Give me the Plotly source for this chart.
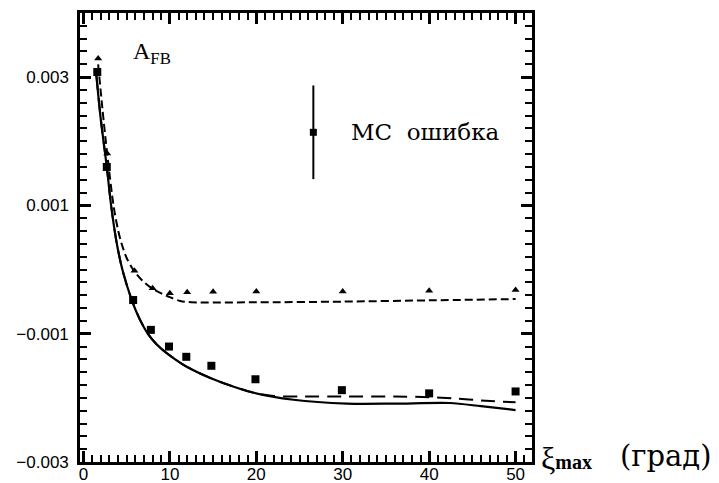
import plotly.graph_objects as go

# --- data ---
sq_x = [1.6, 2.7, 5.75, 7.8, 9.9, 11.9, 14.8, 19.9, 29.9, 40, 50]
sq_y = [0.00308, 0.00160, -0.000475, -0.00094, -0.00120, -0.00136, -0.00150, -0.00171, -0.00188, -0.00193, -0.00190]

tri_x = [1.7, 2.75, 5.9, 8, 10, 12, 15, 20, 30, 40, 50]
tri_y = [0.00329, 0.00181, -0.00002, -0.00029, -0.00037, -0.000355, -0.000345, -0.00034, -0.00034, -0.00033, -0.00032]

solid_x = [1.5, 2.0, 2.7, 3.2, 3.8, 4.5, 5.6, 6.5, 7.5, 8.5, 9.6, 11.5, 13.5, 16, 19.7, 24.3, 30.5, 36, 42.4, 46, 50]
solid_y = [0.00302, 0.00235, 0.0016, 0.0010, 0.00045, 0.0000, -0.00048, -0.00077, -0.00101, -0.00117, -0.00130,
           -0.00148, -0.00162, -0.00176, -0.00192, -0.00203, -0.00209, -0.00209, -0.00208, -0.00213, -0.00219]

dlow_x = [1.5, 2.0, 2.7, 3.2, 3.8, 4.5, 5.6, 6.5, 7.5, 8.5, 9.6, 11.5, 13.5, 16, 19.7, 22, 25, 30.5, 36, 40, 43, 46, 50]
dlow_y = [0.00302, 0.00235, 0.0016, 0.0010, 0.00045, 0.0000, -0.00048, -0.00077, -0.00101, -0.00117, -0.00130,
          -0.00148, -0.00162, -0.00176, -0.00192, -0.00197, -0.00198, -0.00198, -0.00198, -0.00199, -0.00201, -0.00204, -0.00207]

dup_x = [1.7, 2.2, 2.75, 3.5, 4.0, 4.4, 5.0, 5.8, 6.8, 7.9, 9.0, 10.0, 11.2, 12.5, 20, 30, 40, 50]
dup_y = [0.0032, 0.0025, 0.0018, 0.00098, 0.00062, 0.00041, 0.00018, -0.00001, -0.00017, -0.00029, -0.00037,
         -0.00043, -0.00049, -0.00051, -0.00051, -0.00050, -0.00048, -0.00046]

err_x = [26.6]
err_y = [0.00214]
err_v = [0.00073]

x_range = [-0.4, 51.9]
y_range = [-0.003, 0.004]

fig = go.Figure()
fig.add_trace(go.Scatter(x=solid_x, y=solid_y, mode="lines", line=dict(color="black", width=2.2, shape="spline", smoothing=0.8)))
fig.add_trace(go.Scatter(x=dlow_x, y=dlow_y, mode="lines", line=dict(color="black", width=2, dash="14px,8px", shape="spline", smoothing=0.8)))
fig.add_trace(go.Scatter(x=dup_x, y=dup_y, mode="lines", line=dict(color="black", width=2, dash="8px,4px", shape="spline", smoothing=0.8)))
fig.add_trace(go.Scatter(x=sq_x, y=sq_y, mode="markers", marker=dict(symbol="square", size=8, color="black")))
fig.add_trace(go.Scatter(x=tri_x, y=tri_y, mode="markers", marker=dict(symbol="triangle-up", size=7, color="black")))
fig.add_trace(go.Scatter(x=err_x, y=err_y, mode="markers",
                         marker=dict(symbol="square", size=7, color="black"),
                         error_y=dict(type="data", array=err_v, visible=True, thickness=2, width=0, color="black")))

TC = "black"
tick_common = dict(ticks="inside", ticklen=11, tickwidth=2.5, tickcolor=TC,
                   showgrid=False, zeroline=False, automargin=False)
font_ticks = dict(family="Liberation Sans", size=17, color="black")

fig.update_xaxes(range=x_range, tick0=0, dtick=10, ticklabelstandoff=-5, showline=True, linecolor="black",
                 linewidth=2.5, mirror="ticks", tickfont=font_ticks,
                 minor=dict(ticks="inside", dtick=1, tick0=0, ticklen=7, tickwidth=2, tickcolor=TC),
                 **tick_common)
fig.update_yaxes(range=y_range, tick0=-0.003, dtick=0.002, tickformat=".3f", ticklabelstandoff=5,
                 showline=True, linecolor="black", linewidth=2.5, mirror="ticks", tickfont=font_ticks,
                 minor=dict(ticks="inside", dtick=0.0002, tick0=0, ticklen=7, tickwidth=2, tickcolor=TC),
                 **tick_common)

fig.add_annotation(xref="paper", yref="paper", x=0.113, y=0.91, xanchor="left", yanchor="middle",
                   text="A<sub>FB</sub>", showarrow=False,
                   font=dict(family="Liberation Serif", size=24, color="black"))
fig.add_annotation(xref="paper", yref="paper", x=0.595, y=0.735, xanchor="left", yanchor="middle",
                   text="МС  ошибка", showarrow=False,
                   font=dict(family="DejaVu Serif", size=23, color="black"))
fig.add_annotation(xref="paper", yref="paper", x=1.015, y=0.01, xanchor="left", yanchor="middle",
                   text="ξ<span style='font-size:20px'><b>max</b></span>", showarrow=False,
                   font=dict(family="Liberation Serif", size=32, color="black"))
fig.add_annotation(xref="paper", yref="paper", x=1.19, y=0.013, xanchor="left", yanchor="middle",
                   text="(град)", showarrow=False,
                   font=dict(family="DejaVu Serif", size=29, color="black"))

fig.update_layout(width=719, height=483, margin=dict(l=80, r=187, t=13, b=21),
                  plot_bgcolor="white", paper_bgcolor="white", showlegend=False)

fig.write_html("out.html")
